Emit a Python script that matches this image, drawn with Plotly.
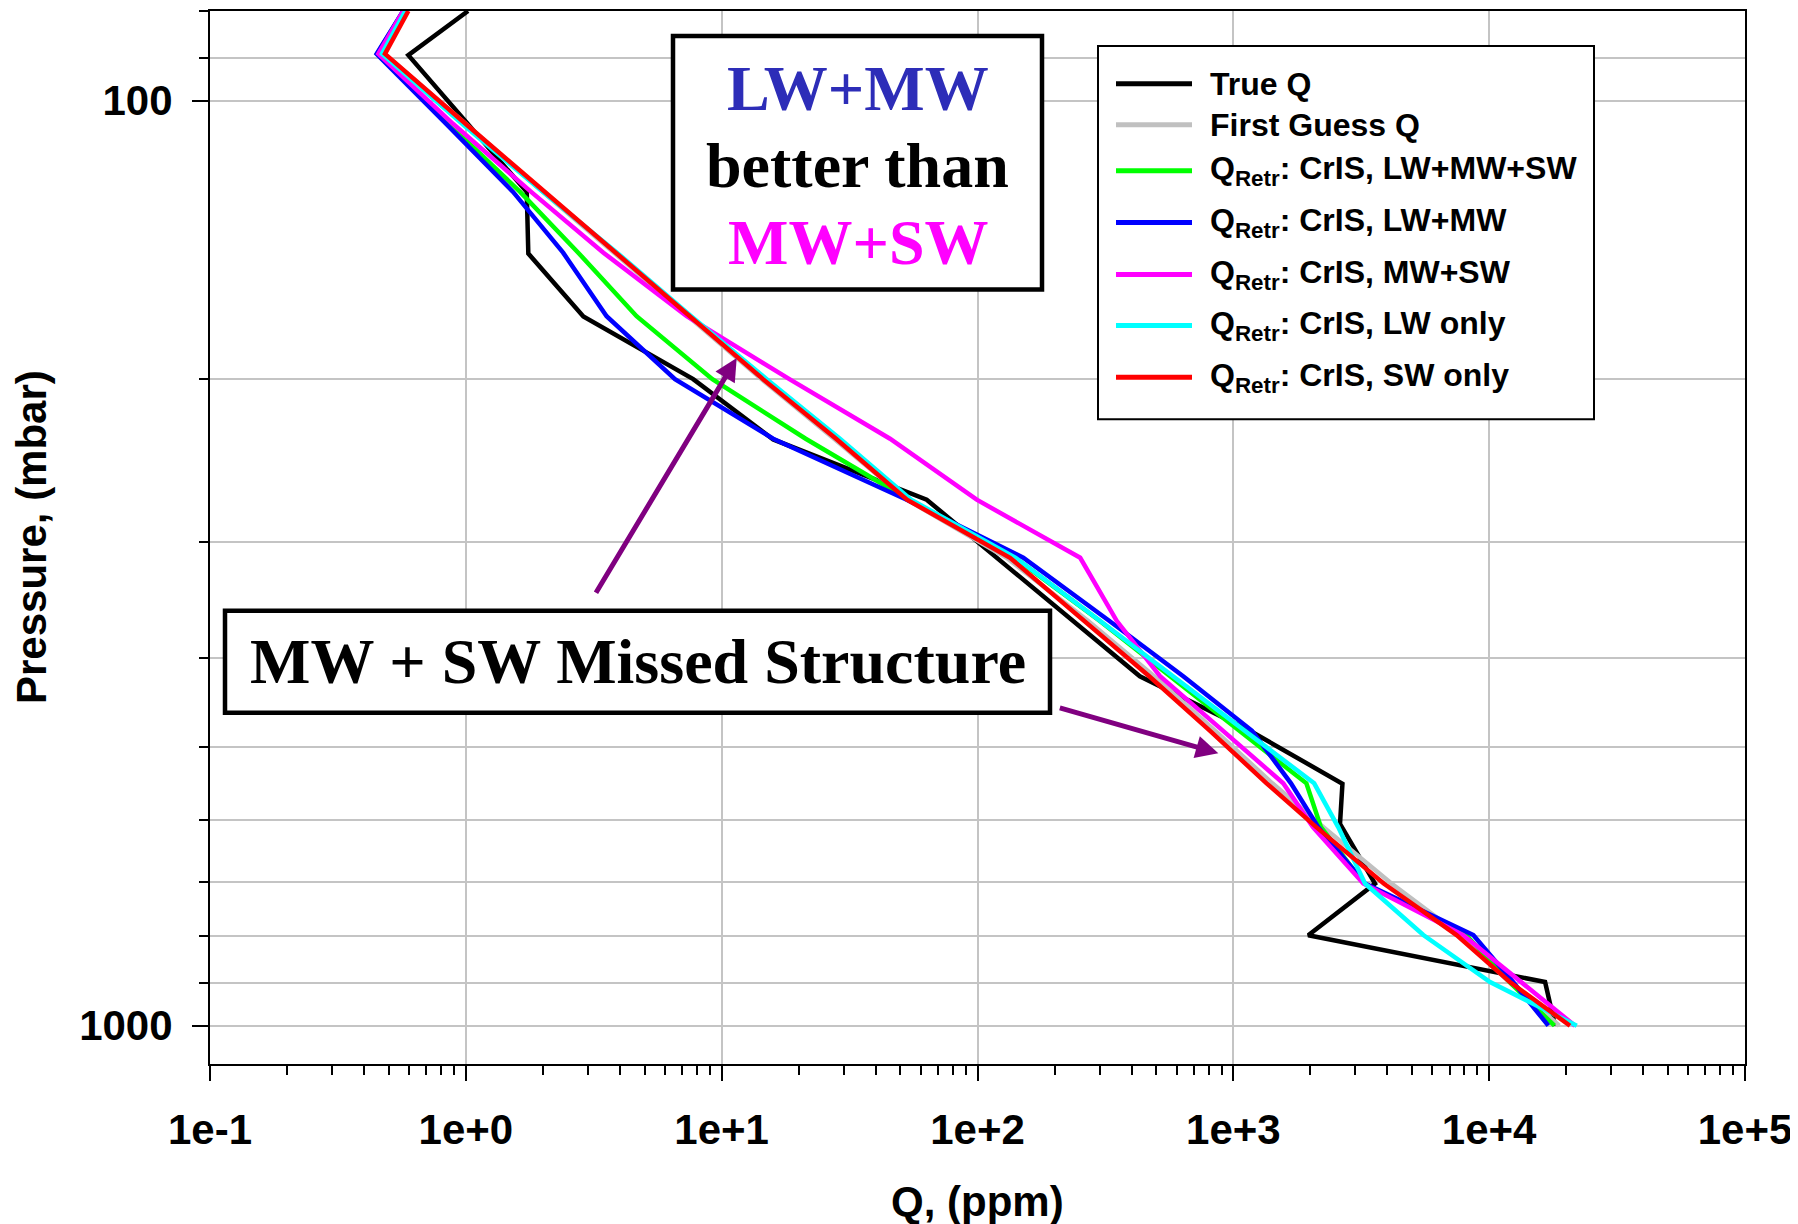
import math

import plotly.graph_objects as go

# ---- data ---------------------------------------------------------------
# pressure levels (mbar) shared by the first guess and the retrievals
P_RET = [80, 89, 106, 125.5, 146, 171, 200, 232, 270, 312, 365, 419, 480,
         547, 610, 702, 798, 897, 1000]

Q_FIRST_GUESS = [0.59, 0.48, 1.0, 2.0, 3.8, 7.4, 14.3, 27.5, 53, 130, 270, 490,
                 850, 1420, 2250, 4150, 7700, 12000, 18800]
Q_LW_MW_SW = [0.57, 0.45, 0.86, 1.63, 2.75, 4.65, 9.2, 21.3, 54, 140, 300, 565,
              1060, 1930, 2200, 3250, 8130, 12000, 18000]
Q_LW_MW = [0.569, 0.448, 0.84, 1.53, 2.40, 3.55, 6.57, 15.9, 52.9, 151, 327, 637,
           1183, 1680, 2148, 3271, 8670, 12400, 17030]
Q_MW_SW = [0.569, 0.455, 0.893, 1.80, 3.45, 7.30, 18.4, 45.5, 99.3, 252, 350, 517,
           912, 1567, 2047, 3221, 7910, 13400, 21650]
Q_LW_ONLY = [0.58, 0.47, 0.97, 2.0, 3.9, 7.6, 15.0, 29.0, 55, 141, 301, 582,
             1127, 2070, 2570, 3271, 5530, 10080, 22000]
Q_SW_ONLY = [0.596, 0.483, 1.0, 2.03, 3.85, 7.52, 14.5, 28.0, 53, 134, 261, 469,
             811, 1349, 2110, 3870, 7460, 12050, 20700]

# truth profile has its own vertices
P_TRUE = [80, 89.3, 125.5, 146.3, 171.1, 200, 232.4, 270, 419, 480, 547.5, 605,
          702, 798.5, 897, 1000]
Q_TRUE = [1.02, 0.596, 1.73, 1.755, 2.88, 7.74, 15.9, 63.3, 431, 1161, 2670, 2612,
          3579, 1963, 16540, 18100]

X_TICKS = [0.1, 1, 10, 100, 1000, 10000, 100000]
X_TICK_TEXT = ["1e-1", "1e+0", "1e+1", "1e+2", "1e+3", "1e+4", "1e+5"]
Y_TICKS = [100, 1000]
Y_TICK_TEXT = ["100", "1000"]
Y_MINOR = [80, 90, 200, 300, 400, 500, 600, 700, 800, 900]

# (label, values, pressures, colour) in drawing order
SERIES = [
    ("True Q", Q_TRUE, P_TRUE, "#000000"),
    ("First Guess Q", Q_FIRST_GUESS, P_RET, "#C0C0C0"),
    ("Q<sub>Retr</sub>: CrIS, LW+MW+SW", Q_LW_MW_SW, P_RET, "#00FF00"),
    ("Q<sub>Retr</sub>: CrIS, LW+MW", Q_LW_MW, P_RET, "#0000FF"),
    ("Q<sub>Retr</sub>: CrIS, MW+SW", Q_MW_SW, P_RET, "#FF00FF"),
    ("Q<sub>Retr</sub>: CrIS, LW only", Q_LW_ONLY, P_RET, "#00FFFF"),
    ("Q<sub>Retr</sub>: CrIS, SW only", Q_SW_ONLY, P_RET, "#FF0000"),
]

# arrows: (tail q, tail p, head q, head p)
ARROWS = [(3.20, 341.7, 11.45, 189.8), (207, 452.8, 873.7, 507.6)]

# ---- layout helpers (page pixel -> paper) ---------------------------------
OFF = 8  # page body margin
W, H = 1798 - OFF, 1224 - OFF
L, R, T, B = 210, 1745, 9, 1064  # plot box in page pixels


def px(x):
    return (x - L) / (R - L)


def py(y):
    return 1 - (y - T) / (B - T)


SANS = "Liberation Sans, Arial, sans-serif"
SERIF = "Liberation Serif, Times New Roman, serif"

fig = go.Figure()
for name, q, p, color in SERIES:
    fig.add_trace(go.Scatter(x=q, y=p, mode="lines", name=name,
                             line=dict(color=color, width=4.5), showlegend=False))

x_minor = [k * 10 ** e for e in range(-1, 5) for k in range(2, 10)]

fig.update_xaxes(
    type="log", range=[-1, 5],
    tickmode="array", tickvals=X_TICKS, ticktext=X_TICK_TEXT,
    ticks="outside", ticklen=15, tickwidth=2, tickcolor="black",
    ticklabelstandoff=13,
    tickfont=dict(family=SANS, size=42, color="black", weight="bold"),
    showgrid=True, gridcolor="#C4C4C4", gridwidth=2,
    showline=True, linecolor="black", linewidth=2, mirror=True, zeroline=False,
    minor=dict(tickmode="array", tickvals=x_minor, ticks="outside", ticklen=9,
               tickwidth=1.5, tickcolor="black", showgrid=False),
)
fig.update_yaxes(
    type="log", range=[math.log10(1100), math.log10(80)],
    tickmode="array", tickvals=Y_TICKS, ticktext=Y_TICK_TEXT,
    ticks="outside", ticklen=16, tickwidth=2, tickcolor="black",
    ticklabelstandoff=11,
    tickfont=dict(family=SANS, size=42, color="black", weight="bold"),
    showgrid=True, gridcolor="#C4C4C4", gridwidth=2,
    showline=True, linecolor="black", linewidth=2, mirror=True, zeroline=False,
    minor=dict(tickmode="array", tickvals=Y_MINOR, ticks="outside", ticklen=9,
               tickwidth=1.5, tickcolor="black", showgrid=True,
               gridcolor="#C4C4C4", gridwidth=2),
)

shapes = []
annotations = []


def box(x0, y0, x1, y1, width):
    shapes.append(dict(type="rect", xref="paper", yref="paper",
                       x0=px(x0), x1=px(x1), y0=py(y1), y1=py(y0),
                       line=dict(color="black", width=width),
                       fillcolor="white", layer="above"))


def text(x, y, s, font, xanchor="center", angle=0):
    annotations.append(dict(xref="paper", yref="paper", x=px(x), y=py(y),
                            text=s, showarrow=False, font=font,
                            xanchor=xanchor, yanchor="middle", textangle=angle))


# legend
box(1098, 44, 1594, 418, 2)
LEGEND_Y = [82, 123, 169, 221, 273, 324, 376]
for (name, _, _, color), ly in zip(SERIES, LEGEND_Y):
    shapes.append(dict(type="line", xref="paper", yref="paper",
                       x0=px(1116), x1=px(1192), y0=py(ly), y1=py(ly),
                       line=dict(color=color, width=5), layer="above"))
    text(1208, ly, name, dict(family=SANS, size=32, color="black", weight="bold"),
         xanchor="left")

# "better than" box
box(673, 34, 1042, 288, 4.5)
serif = dict(family=SERIF, size=64, weight="bold")
text(857.5, 87, "LW+MW", dict(serif, color="#2D2DB8"))
text(857.5, 164, "better than", dict(serif, color="black"))
text(857.5, 241, "MW+SW", dict(serif, color="#FF00FF"))

# "missed structure" box
box(225, 610, 1050, 712, 4.5)
text(637.5, 661, "MW + SW Missed Structure", dict(serif, size=64, color="black"))

# axis titles
text(977.5, 1202, "Q, (ppm)", dict(family=SANS, size=42, color="black", weight="bold"))
text(31, 536, "Pressure, (mbar)", dict(family=SANS, size=42, color="black", weight="bold"),
     angle=-90)

for tq, tp, hq, hp in ARROWS:
    annotations.append(dict(
        x=math.log10(hq), y=math.log10(hp), xref="x", yref="y",
        ax=math.log10(tq), ay=math.log10(tp), axref="x", ayref="y",
        text="", showarrow=True, arrowhead=2, arrowsize=0.9, arrowwidth=5,
        arrowcolor="#800080"))

fig.update_layout(
    width=W, height=H,
    margin=dict(l=L - OFF, r=W - (R - OFF), t=T - OFF, b=H - (B - OFF)),
    plot_bgcolor="white", paper_bgcolor="white",
    showlegend=False,
    shapes=shapes, annotations=annotations,
)

fig.write_html("out.html")
